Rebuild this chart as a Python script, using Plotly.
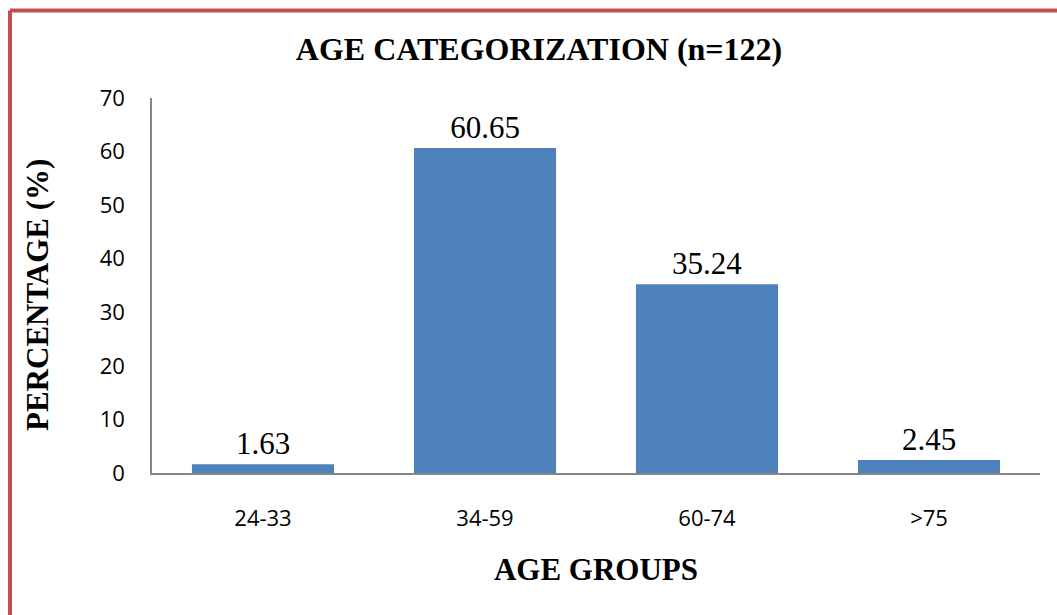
import plotly.graph_objects as go

categories = ["24-33", "34-59", "60-74", ">75"]
percentages = [1.63, 60.65, 35.24, 2.45]
y_ticks = [0, 10, 20, 30, 40, 50, 60, 70]

serif = "Liberation Serif, Times New Roman, serif"
sans = "Open Sans, Noto Sans, sans-serif"

fig = go.Figure(
    go.Bar(
        x=categories,
        y=percentages,
        marker=dict(color="#4F81BD", line=dict(width=0)),
        text=[f"{v:.2f}" for v in percentages],
        textposition="outside",
        textfont=dict(family=serif, size=31, color="black"),
        cliponaxis=False,
    )
)

L, R, T, B = 152, 17, 98, 142
W, H = 1057, 615
pw, ph = W - L - R, H - T - B

fig.update_layout(
    width=W,
    height=H,
    margin=dict(l=L, r=R, t=T, b=B),
    paper_bgcolor="white",
    plot_bgcolor="white",
    bargap=0.36,
    showlegend=False,
    title=dict(
        text="<b>AGE CATEGORIZATION (n=122)</b>",
        font=dict(family=serif, size=32, color="black"),
        x=(539 - L) / pw,
        xref="paper",
        xanchor="center",
        y=1 - 49 / H,
        yanchor="middle",
    ),
    xaxis=dict(
        showline=True,
        linecolor="#868686",
        linewidth=1.5,
        ticks="",
        tickfont=dict(family=sans, size=22, color="black"),
        ticklabelstandoff=25,
        title=dict(
            text="<b>AGE GROUPS</b>",
            font=dict(family=serif, size=31, color="black"),
            standoff=27,
        ),
    ),
    yaxis=dict(
        range=[0, 70],
        tickvals=y_ticks,
        showline=True,
        linecolor="#868686",
        linewidth=1.5,
        showgrid=False,
        zeroline=False,
        ticks="",
        tickfont=dict(family=sans, size=22, color="black"),
        ticklabelstandoff=21,
    ),
)

# Vertical axis title, placed slightly below the plot-area centre
fig.add_annotation(
    text="<b>PERCENTAGE (%)</b>",
    textangle=-90,
    xref="paper", yref="paper",
    x=(37 - L) / pw, y=(T + ph - 295) / ph,
    xanchor="center", yanchor="middle",
    showarrow=False,
    font=dict(family=serif, size=31, color="black"),
)

# Red frame around the chart (top and left edges visible)
border = "#C0504D"
x_left = (10 - L) / pw
y_top = (ph + T - 10.5) / ph
fig.add_shape(type="line", xref="paper", yref="paper",
              x0=x_left, x1=(W + 20 - L) / pw, y0=y_top, y1=y_top,
              line=dict(color=border, width=4))
fig.add_shape(type="line", xref="paper", yref="paper",
              x0=x_left, x1=x_left, y0=y_top, y1=-(B + 20) / ph,
              line=dict(color=border, width=4))

fig.write_html("out.html")
